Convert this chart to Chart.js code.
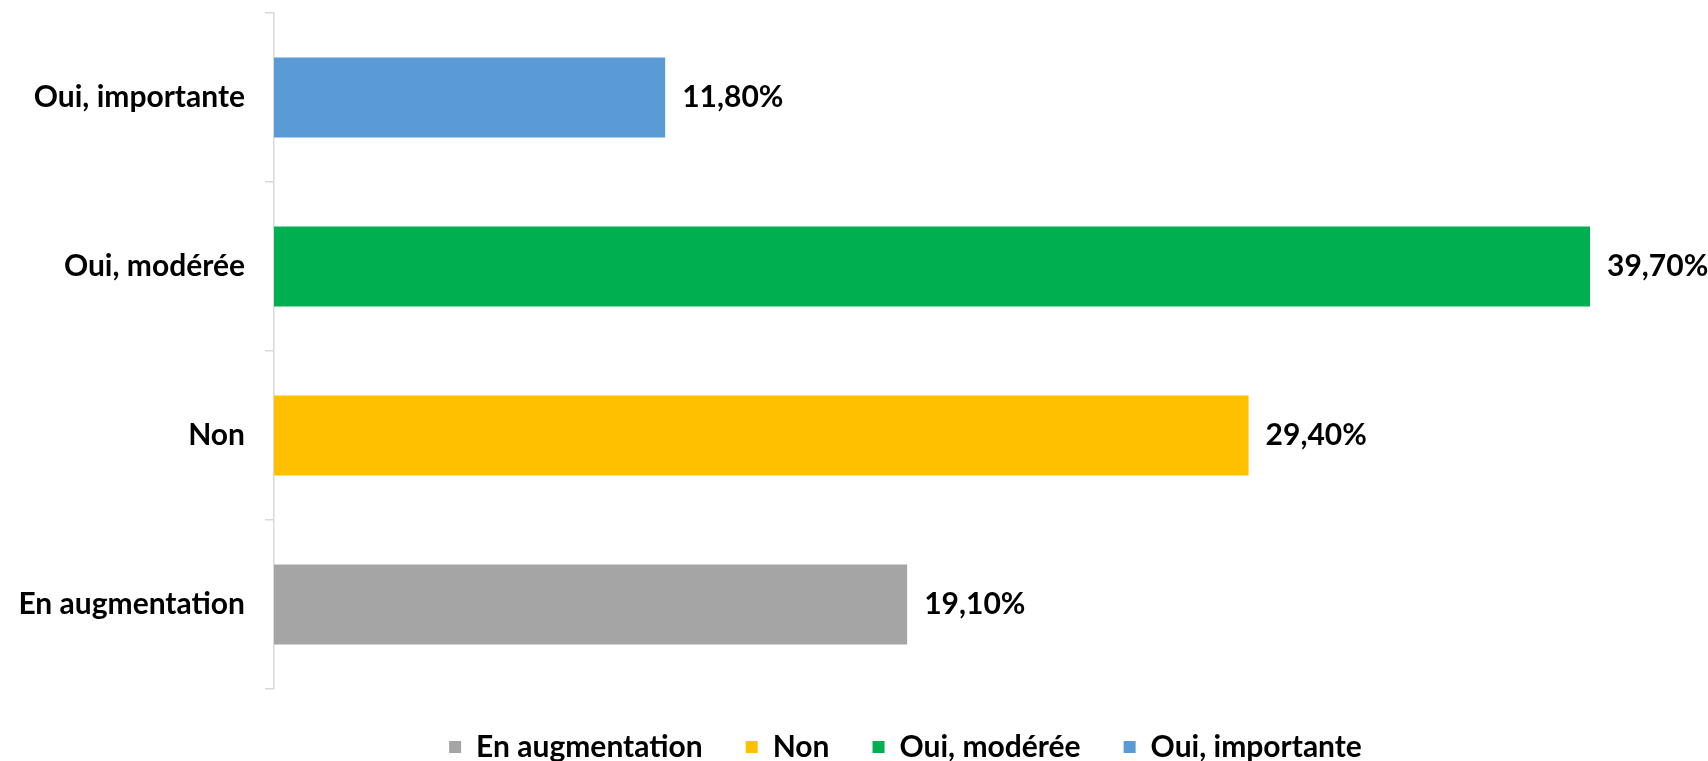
<!DOCTYPE html>
<html lang="fr">
<head>
    <meta charset="UTF-8">
    <title>Oui, importante / modérée / Non / En augmentation</title>
    <script src="https://cdn.jsdelivr.net/npm/chart.js"></script>
    <style>
        body {
            margin: 0;
            padding: 0;
            background: #fff;
        }
        .chart-box {
            position: relative;
            width: 1708px;
            height: 761px;
        }
    </style>
</head>
<body>
    <div class="chart-box">
        <canvas id="barChart"></canvas>
    </div>

    <script>
        // categories in Excel order (first one drawn at the bottom)
        const categories = ['En augmentation', 'Non', 'Oui, modérée', 'Oui, importante'];
        const values = [19.1, 29.4, 39.7, 11.8];
        const barColors = ['#A5A5A5', '#FFC000', '#00B050', '#5B9BD5'];

        const fontFamily = "Lato, 'Open Sans', sans-serif";
        const fontSize = 30;

        // value labels at the end of each bar, "39,70%" style
        const valueLabels = {
            id: 'valueLabels',
            afterDatasetsDraw(chart) {
                const ctx = chart.ctx;
                const meta = chart.getDatasetMeta(0);
                ctx.save();
                ctx.font = `bold ${fontSize}px ${fontFamily}`;
                ctx.fillStyle = '#000';
                ctx.textAlign = 'left';
                ctx.textBaseline = 'middle';
                meta.data.forEach((bar, i) => {
                    const txt = values[i].toFixed(2).replace('.', ',') + '%';
                    ctx.fillText(txt, bar.x + 17, bar.y);
                });
                ctx.restore();
            }
        };

        const ctx = document.getElementById('barChart').getContext('2d');
        const chart = new Chart(ctx, {
            type: 'bar',
            data: {
                labels: categories,
                datasets: [{
                    data: values,
                    backgroundColor: barColors,
                    categoryPercentage: 1,
                    barPercentage: 0.473,
                    clip: false
                }]
            },
            options: {
                indexAxis: 'y',
                responsive: true,
                maintainAspectRatio: false,
                animation: false,
                layout: {
                    padding: { top: 13, left: 0, right: 171, bottom: -11 }
                },
                plugins: {
                    legend: {
                        position: 'bottom',
                        fullSize: false,
                        labels: {
                            boxWidth: 12,
                            boxHeight: 12,
                            padding: 43,
                            color: '#000',
                            font: { family: fontFamily, size: fontSize, weight: 'bold' },
                            generateLabels: () => categories.map((c, i) => ({
                                text: c,
                                fillStyle: barColors[i],
                                strokeStyle: barColors[i],
                                lineWidth: 0,
                                index: i
                            }))
                        }
                    },
                    tooltip: { enabled: false }
                },
                scales: {
                    x: {
                        display: false,
                        min: 0,
                        max: 38.1
                    },
                    y: {
                        reverse: true,
                        afterFit(scale) {
                            scale.width = 274;
                            scale.paddingTop = 0;
                            scale.paddingBottom = 0;
                        },
                        grid: {
                            offset: true,
                            drawOnChartArea: false,
                            drawTicks: true,
                            tickLength: 9,
                            color: '#D9D9D9',
                            lineWidth: 1.5
                        },
                        border: { display: true, color: '#D9D9D9', width: 1.5 },
                        ticks: {
                            color: '#000',
                            padding: 20,
                            font: { family: fontFamily, size: fontSize, weight: 'bold' }
                        }
                    }
                }
            },
            plugins: [valueLabels]
        });
    </script>
</body>
</html>
